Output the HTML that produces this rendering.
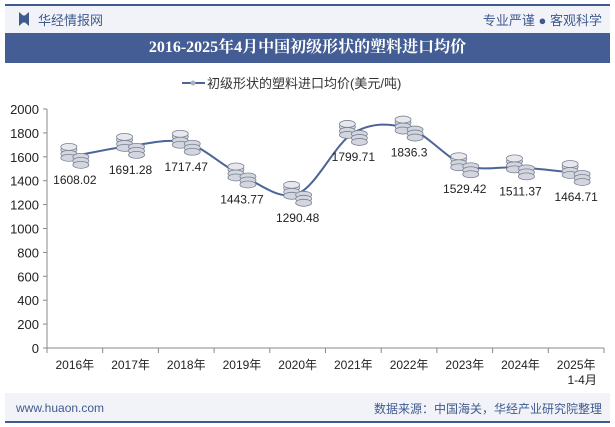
<!DOCTYPE html>
<html><head><meta charset="utf-8"><style>
body{margin:0;width:615px;height:427px;background:#fff;font-family:"Liberation Sans","Noto Sans CJK SC",sans-serif;position:relative;overflow:hidden}
.abs{position:absolute}
</style></head><body>
<div class="abs" style="left:5px;top:4px;width:605px;height:2px;background:#3f5a8f"></div>
<div class="abs" style="left:5px;top:6px;width:605px;height:27px;background:#f2f3f8"></div>
<div class="abs" style="left:19px;top:12px;width:10px;height:14px;background:#3f5a8f;clip-path:polygon(0 0,40% 25%,60% 25%,100% 0,100% 100%,60% 75%,40% 75%,0 100%)"></div>
<div class="abs" style="left:38px;top:10px;font-size:13px;color:#3f5a8f">华经情报网</div>
<div class="abs" style="right:13px;top:10px;font-size:13px;color:#3f5a8f">专业严谨 ● 客观科学</div>
<div class="abs" style="left:5px;top:33px;width:605px;height:30px;background:#445d94;color:#fff;font-size:16px;font-weight:bold;text-align:center;line-height:30px;font-family:'Liberation Serif','Noto Serif CJK SC',serif">2016-2025年4月中国初级形状的塑料进口均价</div>
<div class="abs" style="left:5px;top:393px;width:605px;height:29px;background:#f2f3f8"></div>
<div class="abs" style="left:5px;top:421px;width:605px;height:2px;background:#3f5a8f"></div>
<div class="abs" style="left:16px;top:401px;font-size:12px;color:#3f5a8f">www.huaon.com</div>
<div class="abs" style="right:13px;top:400px;font-size:12px;color:#3f5a8f">数据来源：中国海关，华经产业研究院整理</div>
<svg class="abs" style="left:0;top:0" width="615" height="427" id="chart"></svg>
<script>
const categories=["2016年","2017年","2018年","2019年","2020年","2021年","2022年","2023年","2024年","2025年"];
const values=[1608.02,1691.28,1717.47,1443.77,1290.48,1799.71,1836.3,1529.42,1511.37,1464.71];
const yTicks=[0,200,400,600,800,1000,1200,1400,1600,1800,2000];
const NS="http://www.w3.org/2000/svg";
const svg=document.getElementById('chart');
const x0=47,bw=55.7,yTop=109,yBot=348;
const xs=i=>x0+bw*(i+0.5);
const ys=v=>yBot-(v/2000)*(yBot-yTop);
function mk(t,a,p){const e=document.createElementNS(NS,t);for(const k in a)e.setAttribute(k,a[k]);(p||svg).appendChild(e);return e;}
// legend
const lg=mk('g',{});


mk('line',{x1:182,y1:83,x2:205,y2:83,stroke:'#4a6597','stroke-width':2},lg);
mk('circle',{cx:193,cy:83,r:2.5,fill:'#a9b3c8'},lg);
const lt=mk('text',{x:207,y:88,'font-size':13,fill:'#333'},lg);lt.textContent='初级形状的塑料进口均价(美元/吨)';
// axes
const ax=mk('g',{});


mk('line',{x1:x0,y1:yTop,x2:x0,y2:yBot,stroke:'#888'},ax);
yTicks.forEach(v=>{const y=ys(v);mk('line',{x1:x0-4,y1:y,x2:x0,y2:y,stroke:'#888'},ax);
const t=mk('text',{x:x0-8,y:y+5,'font-size':13,fill:'#222','text-anchor':'end'},ax);t.textContent=v;});
const xa=mk('g',{});


mk('line',{x1:x0,y1:yBot,x2:x0+bw*10,y2:yBot,stroke:'#888'},xa);
for(let i=0;i<=10;i++)mk('line',{x1:x0+bw*i,y1:yBot,x2:x0+bw*i,y2:yBot+5,stroke:'#888'},xa);
categories.forEach((c,i)=>{const t=mk('text',{x:xs(i),y:369,'font-size':12,fill:'#222','text-anchor':'middle'},xa);t.textContent=c;});
const sub=mk('text',{x:xs(9)+6,y:384,'font-size':12,fill:'#222','text-anchor':'middle'},xa);sub.textContent='1-4月';
// line (catmull-rom)
const pts=values.map((v,i)=>[xs(i),ys(v)]);
let d='M'+pts[0][0]+','+pts[0][1];
for(let i=0;i<pts.length-1;i++){const p0=pts[Math.max(i-1,0)],p1=pts[i],p2=pts[i+1],p3=pts[Math.min(i+2,pts.length-1)];
d+=` C${p1[0]+(p2[0]-p0[0])/6},${p1[1]+(p2[1]-p0[1])/6} ${p2[0]-(p3[0]-p1[0])/6},${p2[1]-(p3[1]-p1[1])/6} ${p2[0]},${p2[1]}`;}
const ln=mk('path',{d:d,fill:'none',stroke:'#4a6597','stroke-width':2});


// coins + labels
values.forEach((v,i)=>{const x=xs(i),y=ys(v);
const g=mk('g',{});


[[-8,-6],[-8,-2],[-8,2],[4,1],[4,5],[4,9]].forEach(o=>mk('ellipse',{cx:x+o[0]+2,cy:y+o[1],rx:8,ry:3.5,fill:'#d3d6de',stroke:'#7a8194','stroke-width':0.8},g));
mk('ellipse',{cx:x-6,cy:y-9,rx:8,ry:3.5,fill:'#e6e8ee',stroke:'#7a8194','stroke-width':0.8},g);
const t=mk('text',{x:x,y:y+28,'font-size':12,fill:'#222','text-anchor':'middle'});


t.textContent=v;});
</script>
</body></html>
